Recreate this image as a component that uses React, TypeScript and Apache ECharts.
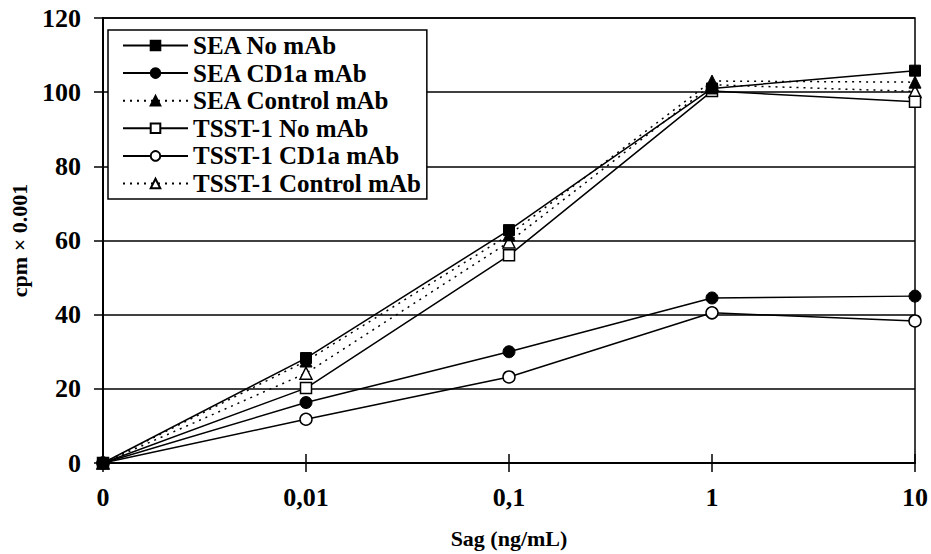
import React, { useEffect, useRef } from "react";
import * as echarts from "echarts";

const categories = ["0", "0,01", "0,1", "1", "10"];
const yTicks = [0, 20, 40, 60, 80, 100, 120];

const seaNoMab = [0, 28.3, 62.8, 101, 105.8];
const seaCd1a = [0, 16.3, 30, 44.5, 45];
const seaControl = [0, 27.5, 61.5, 103, 102.7];
const tsstNoMab = [0, 20.2, 56, 100.3, 97.4];
const tsstCd1a = [0, 11.8, 23.2, 40.5, 38.3];
const tsstControl = [0, 24.2, 59.6, 102, 100.2];

const FONT = "Liberation Serif";

export default function App() {
  const ref = useRef<HTMLDivElement>(null);
  useEffect(() => {
    if (!ref.current) return;
    const chart = echarts.init(ref.current, undefined, { renderer: "svg" });
    const filled = { color: "#000", borderColor: "#000", borderWidth: 1 };
    const open = { color: "#fff", borderColor: "#000", borderWidth: 1.5 };
    const solid = { color: "#000", width: 1.5, type: "solid" as const };
    const dotted = { color: "#000", width: 1.5, type: [2, 5] as any };
    const mk = (name: string, data: number[], symbol: string, size: number, itemStyle: any, lineStyle: any, z: number) => ({
      name,
      type: "line",
      data,
      symbol,
      symbolSize: size,
      showSymbol: true,
      itemStyle,
      lineStyle,
      z,
      emphasis: { disabled: true },
    });
    chart.setOption({
      animation: false,
      backgroundColor: "#fff",
      textStyle: { fontFamily: FONT },
      grid: {
        left: 90,
        right: 13,
        top: 18,
        bottom: 85,
        show: true,
        borderColor: "#000",
        borderWidth: 1.5,
        backgroundColor: "transparent",
      },
      legend: {
        orient: "vertical",
        left: 108,
        top: 30,
        padding: [3, 6, 3, 14],
        backgroundColor: "#fff",
        borderColor: "#000",
        borderWidth: 1.5,
        itemWidth: 65,
        itemHeight: 12,
        itemGap: 2.6,
        textStyle: { fontFamily: FONT, fontWeight: "bold", fontSize: 25, color: "#000" },
        data: [
          "SEA No mAb",
          "SEA CD1a mAb",
          "SEA Control mAb",
          "TSST-1 No mAb",
          "TSST-1 CD1a mAb",
          "TSST-1 Control mAb",
        ],
      },
      xAxis: [
        {
          type: "category",
          data: categories,
          boundaryGap: false,
          name: "Sag (ng/mL)",
          nameLocation: "middle",
          nameGap: 64,
          nameTextStyle: { fontFamily: FONT, fontWeight: "bold", fontSize: 22, color: "#000" },
          axisLine: { lineStyle: { color: "#000", width: 2 } },
          axisTick: { show: true, length: 9, lineStyle: { color: "#000", width: 1.5 } },
          axisLabel: { fontFamily: FONT, fontWeight: "bold", fontSize: 26, color: "#000", margin: 21 },
          splitLine: { show: false },
        },
        {
          type: "category",
          data: categories,
          boundaryGap: false,
          position: "bottom",
          axisLine: { show: false },
          axisTick: { show: true, inside: true, length: 9, lineStyle: { color: "#000", width: 1.5 } },
          axisLabel: { show: false },
          splitLine: { show: false },
        },
      ],
      yAxis: {
        type: "value",
        min: yTicks[0],
        max: yTicks[yTicks.length - 1],
        interval: 20,
        name: "cpm × 0.001",
        nameLocation: "middle",
        nameGap: 73,
        nameTextStyle: { fontFamily: FONT, fontWeight: "bold", fontSize: 22, color: "#000" },
        axisLine: { show: true, lineStyle: { color: "#000", width: 2 } },
        axisTick: { show: true, length: 9, lineStyle: { color: "#000", width: 1.5 } },
        axisLabel: { fontFamily: FONT, fontWeight: "bold", fontSize: 26, color: "#000", margin: 22 },
        splitLine: { show: true, lineStyle: { color: "#000", width: 1.5 } },
      },
      series: [
        mk("SEA No mAb", seaNoMab, "rect", 11, filled, solid, 6),
        mk("SEA CD1a mAb", seaCd1a, "circle", 12, filled, solid, 6),
        mk("SEA Control mAb", seaControl, "triangle", 12, filled, dotted, 5),
        mk("TSST-1 No mAb", tsstNoMab, "rect", 11, open, solid, 4),
        mk("TSST-1 CD1a mAb", tsstCd1a, "circle", 12, open, solid, 4),
        mk("TSST-1 Control mAb", tsstControl, "triangle", 12, open, dotted, 3),
      ],
    });
    return () => chart.dispose();
  }, []);
  return (
    <div
      ref={ref}
      style={{ width: 931, height: 554, position: "absolute", left: 0, top: 0, overflow: "hidden" }}
    />
  );
}
